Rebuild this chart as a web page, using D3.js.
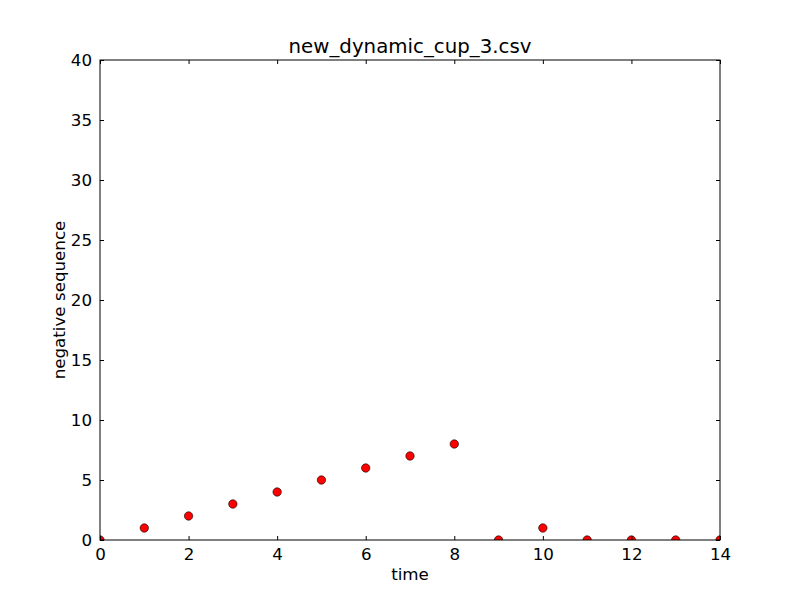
<!DOCTYPE html>
<html><head><meta charset="utf-8">
<script src="https://cdn.jsdelivr.net/npm/d3@7"></script>
<style>body{margin:0;background:#fff}svg{display:block}text{font-family:"DejaVu Sans",sans-serif;fill:#000}</style>
</head><body>
<script>
const title = "new_dynamic_cup_3.csv";
const xLabel = "time";
const yLabel = "negative sequence";
const times = [0,1,2,3,4,5,6,7,8,9,10,11,12,13,14];
const values = [0,1,2,3,4,5,6,7,8,0,1,0,0,0,0];
const xTicks = [0,2,4,6,8,10,12,14];
const yTicks = [0,5,10,15,20,25,30,35,40];

const W=800,H=600,L=100,R=720,T=60,B=540;
const svg=d3.select("body").append("svg").attr("width",W).attr("height",H);
const x=d3.scaleLinear().domain([0,14]).range([L,R]);
const y=d3.scaleLinear().domain([0,40]).range([B,T]);

svg.append("defs").append("clipPath").attr("id","c").append("rect")
  .attr("x",L).attr("y",T).attr("width",R-L).attr("height",B-T);

svg.append("g").attr("clip-path","url(#c)").selectAll("circle").data(times).join("circle")
  .attr("cx",(d)=>x(d)).attr("cy",(d,i)=>y(values[i])).attr("r",4.2)
  .attr("fill","#ff0000").attr("stroke","#000").attr("stroke-width",0.6);

function styleAxis(g){g.select(".domain").remove();g.selectAll("line").attr("stroke","#000");g.selectAll("text").style("font-size","16.7px").style("font-family","DejaVu Sans, sans-serif");}
svg.append("g").attr("transform",`translate(0,${B})`)
  .call(d3.axisBottom(x).tickValues(xTicks).tickFormat(d3.format("d")).tickSizeInner(-4).tickSizeOuter(0).tickPadding(8))
  .call(styleAxis);
svg.append("g").attr("transform",`translate(0,${T})`)
  .call(d3.axisTop(x).tickValues(xTicks).tickFormat("").tickSizeInner(-4).tickSizeOuter(0))
  .call(styleAxis);
svg.append("g").attr("transform",`translate(${L},0)`)
  .call(d3.axisLeft(y).tickValues(yTicks).tickFormat(d3.format("d")).tickSizeInner(-4).tickSizeOuter(0).tickPadding(8))
  .call(styleAxis);
svg.append("g").attr("transform",`translate(${R},0)`)
  .call(d3.axisRight(y).tickValues(yTicks).tickFormat("").tickSizeInner(-4).tickSizeOuter(0))
  .call(styleAxis);

svg.append("rect").attr("x",L).attr("y",T).attr("width",R-L).attr("height",B-T)
  .attr("fill","none").attr("stroke","#000").attr("stroke-width",1);

svg.append("text").attr("x",(L+R)/2).attr("y",53).attr("text-anchor","middle").style("font-size","19.8px").text(title);
svg.append("text").attr("x",(L+R)/2).attr("y",580).attr("text-anchor","middle").style("font-size","16.7px").text(xLabel);
svg.append("text").attr("transform",`translate(65,${(T+B)/2}) rotate(-90)`).attr("text-anchor","middle").style("font-size","16.7px").text(yLabel);
</script>
</body></html>
